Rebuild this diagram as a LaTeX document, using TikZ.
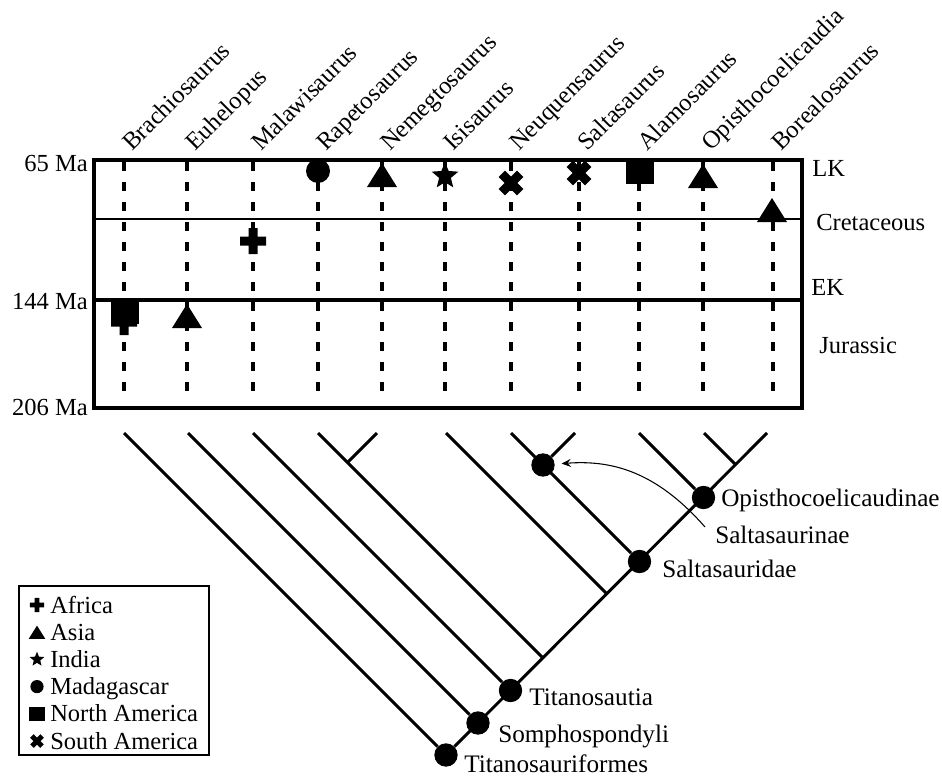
\documentclass[tikz,border=0pt]{standalone}
\usepackage{fontspec}
\setmainfont{Liberation Serif}
\usetikzlibrary{arrows.meta}

\begin{document}
\begin{tikzpicture}[x=0.75pt,y=-0.75pt,>={Stealth[length=7pt,width=6pt,inset=2.5pt]},
    genus/.style={rotate=45,anchor=base west,inner sep=0pt,font=\fontsize{18.4}{22}\selectfont},
    txt/.style={inner sep=0pt,font=\fontsize{18.4}{22}\selectfont},
    clade label/.style={txt,anchor=west,font=\fontsize{18.9}{22}\selectfont},
    clade node/.style={circle,fill,inner sep=0pt,minimum size=17.5pt},
    branch/.style={line width=2.2pt},
    timespan/.style={line width=2.6pt,dash pattern=on 6.75pt off 8.25pt},
    africa/.pic={\fill (-13,-4.5) rectangle (13,4.5) (-4.5,-13) rectangle (4.5,13);},
    asia/.pic={\fill (0,-12) -- (15,12) -- (-15,12) -- cycle;},
    india/.pic={\fill (-90:14) \foreach \a in {1,...,9}{ -- ({-90+36*\a}:{ifthenelse(isodd(\a),6.2,14)}) } -- cycle;},
    madagascar/.pic={\fill (0,0) circle (12);},
    namerica/.pic={\fill (-14,-13) rectangle (14,13);},
    samerica/.pic={\fill[rotate=45] (-13,-4.5) rectangle (13,4.5) (-4.5,-13) rectangle (4.5,13);}]

  \useasboundingbox (0,0) rectangle (942,778);

  % time ranges
  \foreach \n/\x in {Brachiosaurus/124,Euhelopus/187,Malawisaurus/253,Rapetosaurus/318,
      Nemegtosaurus/382,Isisaurus/445,Neuquensaurus/511,Saltasaurus/579,Alamosaurus/639,
      Opisthocoelicaudia/703,Borealosaurus/773}{
    \coordinate (top-\n) at (\x,162);
    \coordinate (bot-\n) at (\x,396);
    \draw[timespan] (top-\n) -- (bot-\n);
    \node[genus] (lbl-\n) at (\x+8,152) {\n};
  }

  \draw[line width=2.5pt] (94,160) rectangle (802,408);
  \draw[line width=1.4pt] (94,219) -- (802,219);
  \draw[line width=2.5pt] (94,300) -- (802,300);

  \node[txt,anchor=east] (ma65) at (88,163) {65 Ma};
  \node[txt,anchor=east] (ma144) at (88,302) {144 Ma};
  \node[txt,anchor=east] (ma206) at (88,407) {206 Ma};
  \node[txt,anchor=west] (lk) at (812,168) {LK};
  \node[txt,anchor=west] (cretaceous) at (816,222) {Cretaceous};
  \node[txt,anchor=west] (ek) at (811,287) {EK};
  \node[txt,anchor=west] (jurassic) at (819,345) {Jurassic};

  \pic at (124,322) {africa};
  \pic at (125,311) {namerica};
  \pic at (187,316) {asia};
  \pic at (253,241) {africa};
  \pic at (318,171) {madagascar};
  \pic at (382,175) {asia};
  \pic at (445,176) {india};
  \pic at (511,183) {samerica};
  \pic at (579,173) {samerica};
  \pic at (640,171) {namerica};
  \pic at (703,176) {asia};
  \pic at (772,210) {asia};

  % cladogram
  \foreach \n/\x in {Brachiosaurus/124,Euhelopus/188,Malawisaurus/253,Rapetosaurus/318,
      Nemegtosaurus/377,Isisaurus/446,Neuquensaurus/511,Saltasaurus/575,Alamosaurus/639,
      Opisthocoelicaudia/704,Borealosaurus/767}
    \coordinate (leaf-\n) at (\x,433);

  \node[clade node] (titanosauriformes) at (446,755) {};
  \node[clade node] (somphospondyli) at (478,723) {};
  \node[clade node] (titanosautia) at (510.5,690.5) {};
  \node[clade node] (saltasauridae) at (639.5,561.5) {};
  \node[clade node] (saltasaurinae) at (543,465) {};
  \node[clade node] (opisthocoelicaudinae) at (703.5,497.5) {};
  \coordinate (rapnem) at (347.5,462.5);
  \coordinate (join-rap) at (543,658);
  \coordinate (join-isi) at (607,594);
  \coordinate (join-opi) at (736,465);

  \draw[branch] (titanosauriformes) -- (leaf-Borealosaurus);
  \draw[branch] (leaf-Brachiosaurus) -- (titanosauriformes);
  \draw[branch] (leaf-Euhelopus) -- (somphospondyli);
  \draw[branch] (leaf-Malawisaurus) -- (titanosautia);
  \draw[branch] (leaf-Rapetosaurus) -- (join-rap);
  \draw[branch] (leaf-Nemegtosaurus) -- (rapnem);
  \draw[branch] (leaf-Isisaurus) -- (join-isi);
  \draw[branch] (leaf-Neuquensaurus) -- (saltasauridae);
  \draw[branch] (leaf-Saltasaurus) -- (saltasaurinae);
  \draw[branch] (leaf-Alamosaurus) -- (opisthocoelicaudinae);
  \draw[branch] (leaf-Opisthocoelicaudia) -- (join-opi);

  \node[clade label] (lbl-opisthocoelicaudinae) at (721,500) {Opisthocoelicaudinae};
  \node[clade label] (lbl-saltasaurinae) at (715,535) {Saltasaurinae};
  \node[clade label] (lbl-saltasauridae) at (662,569) {Saltasauridae};
  \node[clade label] (lbl-titanosautia) at (529,697) {Titanosautia};
  \node[clade label] (lbl-somphospondyli) at (498,736) {Somphospondyli};
  \node[clade label] (lbl-titanosauriformes) at (464,764) {Titanosauriformes};

  \coordinate (arrow-tail) at (705,527);
  \draw[->,line width=0.8pt,shorten >=5pt] (arrow-tail) .. controls (655,470) and (610,460) .. (saltasaurinae);

  % legend
  \draw[line width=2.2pt] (19,586) rectangle (209,755);
  \foreach \s/\t [count=\i from 0] in {africa/Africa,asia/Asia,india/India,madagascar/Madagascar,
      namerica/North America,samerica/South America}{
    \pic[scale=0.55] at (37,605+27.2*\i) {\s};
    \node[txt,anchor=base west] (key-\s) at (50,613+27.2*\i) {\t};
  }
\end{tikzpicture}
\end{document}
